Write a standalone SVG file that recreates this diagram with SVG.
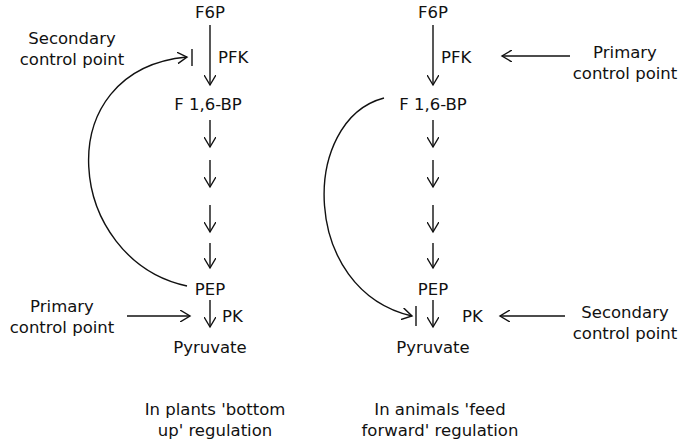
<svg xmlns="http://www.w3.org/2000/svg" width="685" height="445" viewBox="0 0 685 445">
<style>
text{font-family:"DejaVu Sans",Verdana,sans-serif;font-size:16.5px;fill:#111}
.c{text-anchor:middle}
.l{stroke:#111;stroke-width:1.4;fill:none}
</style>
<defs><marker id="a" markerWidth="12" markerHeight="12" refX="10" refY="6" orient="auto" markerUnits="userSpaceOnUse"><path d="M0,0 L10,6 L0,12" fill="none" stroke="#111" stroke-width="1.4"/></marker></defs>
<rect width="685" height="445" fill="#fff"/>
<g id="left">
<text class="c" x="210" y="18">F6P</text>
<text x="218" y="63">PFK</text>
<text class="c" x="208" y="110">F 1,6-BP</text>
<text class="c" x="210" y="295">PEP</text>
<text x="222" y="322">PK</text>
<text class="c" x="210" y="353">Pyruvate</text>
<text class="c" x="72" y="44">Secondary</text>
<text class="c" x="72" y="65">control point</text>
<text class="c" x="62" y="312">Primary</text>
<text class="c" x="62" y="333">control point</text>
<text class="c" x="215" y="415">In plants 'bottom</text>
<text class="c" x="215" y="436">up' regulation</text>
</g>
<g id="right">
<text class="c" x="433" y="18">F6P</text>
<text x="441" y="63">PFK</text>
<text class="c" x="433" y="110">F 1,6-BP</text>
<text class="c" x="433" y="295">PEP</text>
<text x="462" y="322">PK</text>
<text class="c" x="433" y="353">Pyruvate</text>
<text class="c" x="625" y="58">Primary</text>
<text class="c" x="625" y="79">control point</text>
<text class="c" x="625" y="318">Secondary</text>
<text class="c" x="625" y="339">control point</text>
<text class="c" x="440" y="415">In animals 'feed</text>
<text class="c" x="440" y="436">forward' regulation</text>
</g>
<g id="connectors">
<path class="l" d="M210,25 V85" marker-end="url(#a)"/>
<path class="l" d="M210,120 V147" marker-end="url(#a)"/>
<path class="l" d="M210,160 V187" marker-end="url(#a)"/>
<path class="l" d="M210,205 V232" marker-end="url(#a)"/>
<path class="l" d="M210,243 V268" marker-end="url(#a)"/>
<path class="l" d="M210,300 V327" marker-end="url(#a)"/>
<path class="l" d="M127,316 H190" marker-end="url(#a)"/>
<path class="l" d="M187,286 C66,260 46,70 187,57" marker-end="url(#a)"/>
<path class="l" d="M192,49 V66"/>
<path class="l" d="M433,25 V85" marker-end="url(#a)"/>
<path class="l" d="M433,120 V147" marker-end="url(#a)"/>
<path class="l" d="M433,160 V187" marker-end="url(#a)"/>
<path class="l" d="M433,205 V232" marker-end="url(#a)"/>
<path class="l" d="M433,243 V268" marker-end="url(#a)"/>
<path class="l" d="M433,300 V327" marker-end="url(#a)"/>
<path class="l" d="M570,56 H502" marker-end="url(#a)"/>
<path class="l" d="M565,316 H500" marker-end="url(#a)"/>
<path class="l" d="M384,98 C300,120 300,290 412,316" marker-end="url(#a)"/>
<path class="l" d="M416,306 V326"/>
</g>
</svg>
